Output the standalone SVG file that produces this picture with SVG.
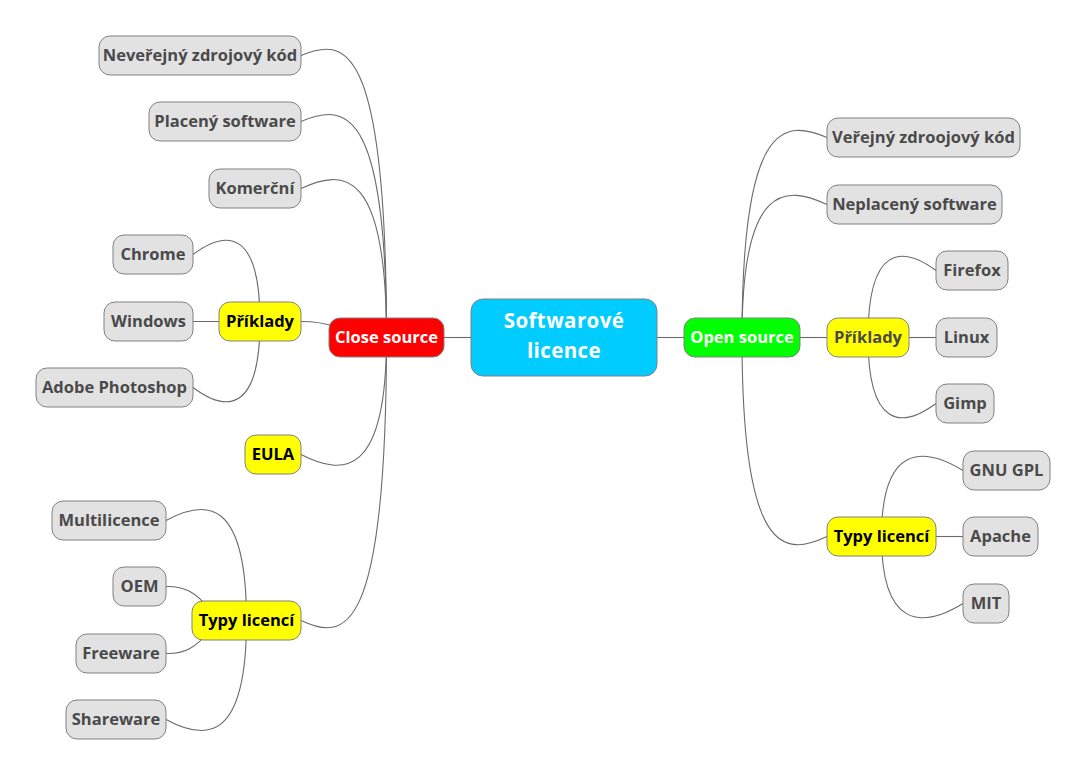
<svg xmlns="http://www.w3.org/2000/svg" width="1088" height="778" viewBox="0 0 1088 778">
<style>
.n rect{stroke:#818181;stroke-width:1;}
.g rect{fill:#E2E2E2;}
.y rect{fill:#FFFF00;}
text{font-family:"Open Sans","DejaVu Sans",sans-serif;font-weight:bold;font-size:16.5px;text-anchor:middle;fill:#4A4A4A;}
.k text{fill:#000000;}
.w text{fill:#FFFFFF;}
#connectors path{fill:none;stroke:#6A6A6A;stroke-width:1.1;}
</style>
<rect x="0" y="0" width="1088" height="778" fill="#FFFFFF"/>
<g id="connectors">
<path d="M444,337.5 L471,337.5"/>
<path d="M657,337.5 L684,337.5"/>
<path d="M301,55.5 C343.75,37.5 386.5,37.5 386.5,337.5"/>
<path d="M301,121.5 C343.75,103.5 386.5,103.5 386.5,337.5"/>
<path d="M301,188.5 C343.75,168.5 386.5,168.5 386.5,337.5"/>
<path d="M301,321.5 C315,321.5 325,323 335,327"/>
<path d="M301,454.5 C343.75,476.5 386.5,476.5 386.5,337.5"/>
<path d="M301,620.5 C343.75,640.5 386.5,640.5 386.5,337.5"/>
<path d="M193,254.5 C226.5,229.5 260,229.5 260,321.5"/>
<path d="M193,321.5 L260,321.5"/>
<path d="M193,387.5 C226.5,412.5 260,412.5 260,321.5"/>
<path d="M166,520.5 C206.25,498.5 246.5,498.5 246.5,620.5"/>
<path d="M166,586.5 C184,586 196,592 210,610"/>
<path d="M166,653.5 C184,654 196,648 210,630"/>
<path d="M166,719.5 C206.25,741.5 246.5,741.5 246.5,620.5"/>
<path d="M827,137.5 C784.5,119.5 742,119.5 742,337.5"/>
<path d="M827,204.5 C784.5,184.5 742,184.5 742,337.5"/>
<path d="M800,337.5 L827,337.5"/>
<path d="M827,536.5 C784.5,556.5 742,556.5 742,337.5"/>
<path d="M936,270.5 C902,245.5 868,245.5 868,337.5"/>
<path d="M909,337.5 L936,337.5"/>
<path d="M936,403.5 C902,428.5 868,428.5 868,337.5"/>
<path d="M963,470.5 C922.25,445.5 881.5,445.5 881.5,536.5"/>
<path d="M936,536.5 L963,536.5"/>
<path d="M963,603.5 C922.25,628.5 881.5,628.5 881.5,536.5"/>
</g>
<g id="root" class="n w"><rect x="471" y="299" width="186" height="77" rx="12" fill="#00CCFF"/><text x="564" y="328" style="font-size:20.5px;letter-spacing:0.4px">Softwarové</text><text x="564" y="358" style="font-size:20.5px;letter-spacing:0.4px">licence</text></g>
<g id="close-source" class="n w"><rect x="329" y="318" width="115" height="39" rx="11" fill="#FF0000"/><text x="386.5" y="343">Close source</text></g>
<g id="open-source" class="n w"><rect x="684" y="318" width="116" height="39" rx="11" fill="#00FF00"/><text x="742" y="343">Open source</text></g>
<g id="neverejny" class="n g"><rect x="99" y="36" width="202" height="39" rx="11"/><text x="200" y="61">Neveřejný zdrojový kód</text></g>
<g id="placeny" class="n g"><rect x="149" y="102" width="152" height="39" rx="11"/><text x="225" y="127">Placený software</text></g>
<g id="komercni" class="n g"><rect x="209" y="169" width="92" height="39" rx="11"/><text x="255" y="194">Komerční</text></g>
<g id="priklady-l" class="n y k"><rect x="219" y="302" width="82" height="39" rx="11"/><text x="260" y="327">Příklady</text></g>
<g id="eula" class="n y k"><rect x="245" y="435" width="56" height="39" rx="11"/><text x="273" y="460">EULA</text></g>
<g id="typy-l" class="n y k"><rect x="192" y="601" width="109" height="39" rx="11"/><text x="246.5" y="626">Typy licencí</text></g>
<g id="chrome" class="n g"><rect x="113" y="235" width="80" height="39" rx="11"/><text x="153" y="260">Chrome</text></g>
<g id="windows" class="n g"><rect x="104" y="302" width="89" height="39" rx="11"/><text x="148.5" y="327">Windows</text></g>
<g id="photoshop" class="n g"><rect x="36" y="368" width="157" height="39" rx="11"/><text x="114.5" y="393">Adobe Photoshop</text></g>
<g id="multilicence" class="n g"><rect x="52" y="501" width="114" height="39" rx="11"/><text x="109" y="526">Multilicence</text></g>
<g id="oem" class="n g"><rect x="113" y="567" width="53" height="39" rx="11"/><text x="139.5" y="592">OEM</text></g>
<g id="freeware" class="n g"><rect x="76" y="634" width="90" height="39" rx="11"/><text x="121" y="659">Freeware</text></g>
<g id="shareware" class="n g"><rect x="66" y="700" width="100" height="39" rx="11"/><text x="116" y="725">Shareware</text></g>
<g id="verejny" class="n g"><rect x="827" y="118" width="193" height="39" rx="11"/><text x="923.5" y="143">Veřejný zdroojový kód</text></g>
<g id="neplaceny" class="n g"><rect x="827" y="185" width="175" height="39" rx="11"/><text x="914.5" y="210">Neplacený software</text></g>
<g id="priklady-r" class="n y"><rect x="827" y="318" width="82" height="39" rx="11"/><text x="868" y="343">Příklady</text></g>
<g id="typy-r" class="n y k"><rect x="827" y="517" width="109" height="39" rx="11"/><text x="881.5" y="542">Typy licencí</text></g>
<g id="firefox" class="n g"><rect x="936" y="251" width="72" height="39" rx="11"/><text x="972" y="276">Firefox</text></g>
<g id="linux" class="n g"><rect x="936" y="318" width="61" height="39" rx="11"/><text x="966.5" y="343">Linux</text></g>
<g id="gimp" class="n g"><rect x="936" y="384" width="58" height="39" rx="11"/><text x="965" y="409">Gimp</text></g>
<g id="gnu-gpl" class="n g"><rect x="963" y="451" width="87" height="39" rx="11"/><text x="1006.5" y="476">GNU GPL</text></g>
<g id="apache" class="n g"><rect x="963" y="517" width="75" height="39" rx="11"/><text x="1000.5" y="542">Apache</text></g>
<g id="mit" class="n g"><rect x="963" y="584" width="46" height="39" rx="11"/><text x="986" y="609">MIT</text></g>
</svg>
